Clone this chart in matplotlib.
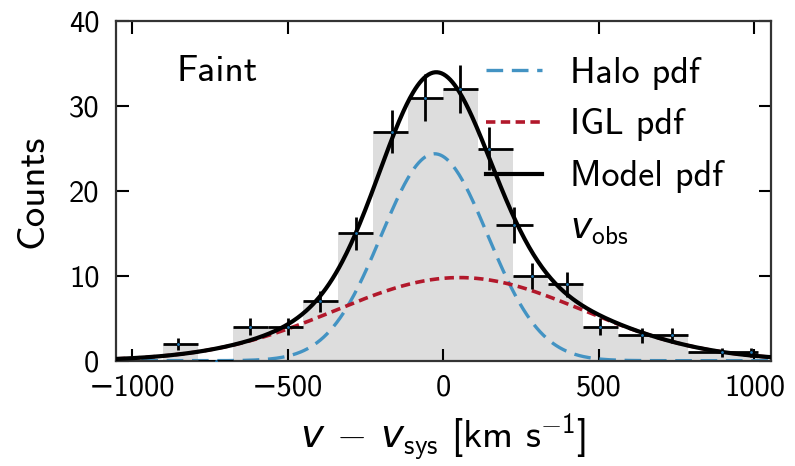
import numpy as np
import matplotlib
matplotlib.use("Agg")
import matplotlib.pyplot as plt

plt.rcParams["font.family"] = ["cmss10", "DejaVu Sans"]
plt.rcParams["mathtext.fontset"] = "custom"
plt.rcParams["mathtext.rm"] = "cmss10"
plt.rcParams["mathtext.it"] = "DejaVu Sans:italic"
plt.rcParams["mathtext.bf"] = "cmss10"
plt.rcParams["axes.formatter.use_mathtext"] = False

# Velocity histogram (km/s): bin edges and counts per bin
bin_edges = [-900, -787.5, -675, -562.5, -450, -337.5, -225, -112.5, 0,
             112.5, 225, 337.5, 450, 562.5, 675, 787.5, 900, 1012.5]
counts = [2, 0, 4, 4, 7, 15, 27, 31, 32, 25, 10, 9, 4, 3, 3, 1, 1]

# Mean velocity of the objects in each bin and the count uncertainty
v_mean = [-853, -731, -622, -498, -397, -279, -166, -59, 54, 148,
          286, 397, 504, 638, 735, 896, 990]
count_err = [0.72, 0.0, 1.02, 1.02, 1.27, 1.95, 2.55, 2.75, 2.85, 2.52,
             1.56, 1.45, 1.02, 0.9, 0.9, 0.52, 0.52]

# Gaussian components of the velocity model (amplitude in counts, mean, sigma)
halo_amp, halo_mu, halo_sigma = 24.4, -28.0, 171.0
igl_amp, igl_mu, igl_sigma = 9.8, 52.0, 398.0

xlim = (-1052, 1052)


def gauss(x, amp, mu, sigma):
    return amp * np.exp(-0.5 * ((x - mu) / sigma) ** 2)


fig = plt.figure(figsize=(7.95, 4.66), dpi=100)
ax = fig.add_axes([0.1459, 0.226, 0.8233, 0.7279])

edges = np.asarray(bin_edges)
ax.bar(edges[:-1], counts, width=np.diff(edges), align="edge",
       color="#dddddd", linewidth=0, zorder=0)

v = np.linspace(xlim[0], xlim[1], 600)
halo = gauss(v, halo_amp, halo_mu, halo_sigma)
igl = gauss(v, igl_amp, igl_mu, igl_sigma)

ax.plot(v, halo, color="#4393c3", lw=2.4, dashes=(5.0, 2.6), label="Halo pdf", zorder=2)
ax.plot(v, igl, color="#b2182b", lw=2.6, dashes=(2.6, 1.5), label="IGL pdf", zorder=2)
ax.plot(v, halo + igl, color="black", lw=3.0, label="Model pdf", zorder=3)

vm = np.asarray(v_mean)
xerr = np.vstack([vm - edges[:-1], edges[1:] - vm])
ax.errorbar(vm, counts, xerr=xerr, yerr=count_err, fmt=".", ms=2,
            color="#1f77b4", ecolor="black", elinewidth=2.0, capsize=0,
            label=r"$v_{\rm obs}$", zorder=4)

ax.set_xlim(*xlim)
ax.set_ylim(0, 40)
ax.set_xticks([-1000, -500, 0, 500, 1000])
ax.set_yticks([0, 10, 20, 30, 40])
ax.tick_params(direction="in", top=True, right=True, length=9, width=1.5,
               labelsize=22)
ax.tick_params(axis="x", pad=10)
ax.tick_params(axis="y", pad=12)
for s in ax.spines.values():
    s.set_linewidth(1.6)
    s.set_color("#333333")

ax.set_xlabel(r"$v\,-\,v_{\rm sys}$ [km s$^{-1}$]", fontsize=28, labelpad=7)
ax.set_ylabel("Counts", fontsize=28, labelpad=13)

ax.text(0.093, 0.90, "Faint", transform=ax.transAxes, fontsize=27,
        ha="left", va="top")

ax.legend(loc="upper right", bbox_to_anchor=(0.985, 1.008), frameon=False,
          fontsize=26, handlelength=1.55, handletextpad=0.75,
          labelspacing=0.52, borderaxespad=0.75, borderpad=0.3)

fig.savefig("out.png", dpi=100)
